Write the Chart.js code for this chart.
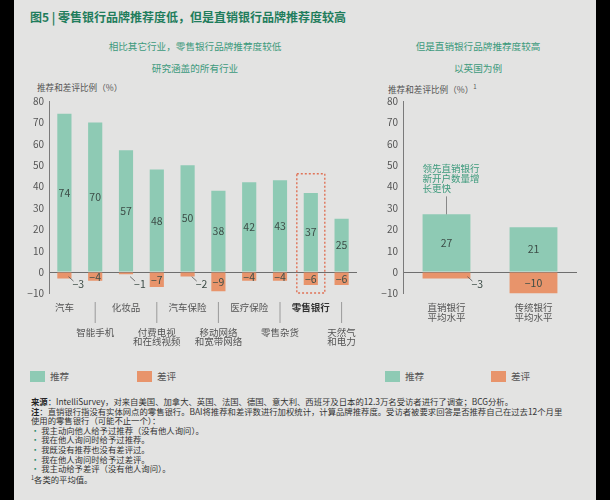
<!DOCTYPE html>
<html>
<head>
<meta charset="utf-8">
<script src="https://cdn.jsdelivr.net/npm/chart.js"></script>
<style>
  body { margin:0; width:610px; height:500px; background:#000; overflow:hidden;
         font-family:"Noto Sans CJK SC","Noto Sans",sans-serif; }
  #panel { position:absolute; left:14px; top:0; width:582px; height:500px; background:#e3e3e2; }
  .abs { position:absolute; white-space:nowrap; }
  #title { left:30px; top:10px; font-size:12px; line-height:14px; font-weight:bold; color:#1f7d5c; }
  .sub { font-size:9.6px; line-height:12px; color:#3d9a7c; text-align:center; }
  .axt { font-size:8.6px; line-height:10px; color:#555; }
  .leg { font-size:9.6px; line-height:11px; color:#555; }
  .box { position:absolute; width:15px; height:11px; }
  #foot { left:31px; top:397px; font-size:8.35px; line-height:9.6px; color:#333; }
  #foot b { color:#222; }
  #foot .dot { color:#2e8a6a; }
  canvas { position:absolute; }
</style>
</head>
<body>
<div id="panel"></div>
<div class="abs" id="title">图5 | 零售银行品牌推荐度低，但是直销银行品牌推荐度较高</div>

<div class="abs sub" style="left:95px;top:40px;width:200px;">相比其它行业，零售银行品牌推荐度较低</div>
<div class="abs sub" style="left:95px;top:62px;width:200px;">研究涵盖的所有行业</div>
<div class="abs sub" style="left:378px;top:40px;width:200px;">但是直销银行品牌推荐度较高</div>
<div class="abs sub" style="left:378px;top:62px;width:200px;">以英国为例</div>

<div class="abs axt" style="left:37px;top:82px;">推荐和差评比例（%）</div>
<div class="abs axt" style="left:388px;top:82px;">推荐和差评比例（%）<sup style="font-size:6px;vertical-align:4px;">1</sup></div>

<canvas id="left" width="345" height="270" style="left:20px;top:90px;"></canvas>
<canvas id="right" width="230" height="270" style="left:365px;top:90px;"></canvas>

<div class="box" style="left:30px;top:371px;background:#8ecab4;"></div>
<div class="abs leg" style="left:50px;top:371px;">推荐</div>
<div class="box" style="left:137px;top:371px;background:#e8946b;"></div>
<div class="abs leg" style="left:157px;top:371px;">差评</div>
<div class="box" style="left:385px;top:371px;background:#8ecab4;"></div>
<div class="abs leg" style="left:405px;top:371px;">推荐</div>
<div class="box" style="left:491px;top:371px;background:#e8946b;"></div>
<div class="abs leg" style="left:511px;top:371px;">差评</div>

<div class="abs" id="foot">
<b>来源</b>：IntelliSurvey，对来自美国、加拿大、英国、法国、德国、意大利、西班牙及日本的12.3万名受访者进行了调查；BCG分析。<br>
<b>注</b>：直销银行指没有实体网点的零售银行。BAI将推荐和差评数进行加权统计，计算品牌推荐度。受访者被要求回答是否推荐自己在过去12个月里<br>
使用的零售银行（可能不止一个）：<br>
<span class="dot">•</span> 我主动向他人给予过推荐（没有他人询问）。<br>
<span class="dot">•</span> 我在他人询问时给予过推荐。<br>
<span class="dot">•</span> 我既没有推荐也没有差评过。<br>
<span class="dot">•</span> 我在他人询问时给予过差评。<br>
<span class="dot">•</span> 我主动给予差评（没有他人询问）。<br>
<sup style="font-size:5.5px;vertical-align:3px;">1</sup>各类的平均值。
</div>

<script>
// industries, left panel
const industries = [['汽车'],['智能手机'],['化妆品'],['付费电视','和在线视频'],['汽车保险'],
  ['移动网络','和宽带网络'],['医疗保险'],['零售杂货'],['零售银行'],['天然气','和电力']];
const recommend = [74,70,57,48,50,38,42,43,37,25];
const detract = [-3,-4,-1,-7,-2,-9,-4,-4,-6,-6];

// banks (UK), right panel
const banks = [['直销银行','平均水平'],['传统银行','平均水平']];
const bankRecommend = [27,21];
const bankDetract = [-3,-10];

const yMin = -10, yMax = 80, yStep = 10;
const GREEN = '#8ecab4', ORANGE = '#e8946b';
const FONT = '"Noto Sans CJK SC","Noto Sans",sans-serif';

Chart.defaults.font.family = FONT;
Chart.defaults.color = '#555';

const minus = v => (v < 0 ? '\u2212' + Math.abs(v) : '' + v);

// numbers in / next to the bars
const valueLabels = {
  id: 'valueLabels',
  afterDatasetsDraw(chart) {
    const ctx = chart.ctx;
    ctx.save();
    ctx.font = '10.5px ' + FONT;
    ctx.fillStyle = '#3d4d47';
    ctx.textBaseline = 'middle';
    chart.data.datasets.forEach((ds, di) => {
      chart.getDatasetMeta(di).data.forEach((bar, i) => {
        const v = ds.data[i];
        if (v < 0 && v > -4) {
          const r = bar.x + bar.width / 2;
          ctx.strokeStyle = '#555';
          ctx.lineWidth = 0.8;
          ctx.beginPath();
          ctx.moveTo(r - 3, bar.base + 4);
          ctx.lineTo(r + 2, bar.base + 8.5);
          ctx.stroke();
          ctx.textAlign = 'left';
          ctx.fillText(minus(v), r + 1, bar.base + 11.5);
        } else {
          ctx.textAlign = 'center';
          ctx.fillText(minus(v), bar.x, (bar.y + bar.base) / 2);
        }
      });
    });
    ctx.restore();
  }
};

// category labels under the bars
const catLabels = {
  id: 'catLabels',
  afterDraw(chart, args, opts) {
    const { ctx, chartArea } = chart;
    const x = chart.scales.x;
    ctx.save();
    ctx.textAlign = 'center';
    ctx.textBaseline = 'middle';
    chart.data.labels.forEach((lab, i) => {
      const px = x.getPixelForValue(i);
      const lower = opts.stagger && i % 2 === 1;
      if (lower) {
        ctx.strokeStyle = '#9a9a9a';
        ctx.lineWidth = 1;
        ctx.beginPath();
        ctx.moveTo(px, chartArea.bottom + 8.5);
        ctx.lineTo(px, chartArea.bottom + 29.5);
        ctx.stroke();
      }
      const bold = i === opts.bold;
      ctx.font = (bold ? 'bold ' : '') + '9.5px ' + FONT;
      ctx.fillStyle = bold ? '#333' : '#555';
      const y0 = chartArea.bottom + (lower ? 38.5 : 13.5);
      lab.forEach((line, k) => ctx.fillText(line, px, y0 + k * opts.gap));
    });
    ctx.restore();
  }
};

// dotted box round the retail bank bar
const highlight = {
  id: 'highlight',
  afterDatasetsDraw(chart, args, opts) {
    if (opts.index == null) return;
    const bar = chart.getDatasetMeta(0).data[opts.index];
    const y = chart.scales.y;
    const ctx = chart.ctx;
    ctx.save();
    ctx.strokeStyle = '#e07357';
    ctx.lineWidth = 1.4;
    ctx.setLineDash([2, 2]);
    const top = y.getPixelForValue(46), bot = y.getPixelForValue(yMin) - 0.5;
    ctx.strokeRect(bar.x - 14, top, 28, bot - top);
    ctx.restore();
  }
};

// green note above the direct bank bar
const note = {
  id: 'note',
  afterDatasetsDraw(chart, args, opts) {
    if (!opts.lines) return;
    const bar = chart.getDatasetMeta(0).data[0];
    const ctx = chart.ctx;
    ctx.save();
    ctx.strokeStyle = '#888';
    ctx.lineWidth = 1;
    ctx.beginPath();
    ctx.moveTo(bar.x, bar.y - 18);
    ctx.lineTo(bar.x, bar.y);
    ctx.stroke();
    ctx.font = '9.5px ' + FONT;
    ctx.fillStyle = '#3d9a7c';
    ctx.textAlign = 'left';
    ctx.textBaseline = 'middle';
    opts.lines.forEach((t, k) => ctx.fillText(t, bar.x - bar.width / 2, bar.y - 46 + k * 10));
    ctx.restore();
  }
};

function makeChart(id, labels, pos, neg, yWidth, padRight, barPct, extra) {
  return new Chart(document.getElementById(id), {
    type: 'bar',
    data: {
      labels: labels,
      datasets: [
        { label: '推荐', data: pos, backgroundColor: GREEN },
        { label: '差评', data: neg, backgroundColor: ORANGE }
      ]
    },
    plugins: [valueLabels, catLabels, highlight, note],
    options: {
      responsive: false,
      animation: false,
      devicePixelRatio: 1,
      layout: { padding: { top: 10, right: padRight, left: 0, bottom: 0 } },
      datasets: { bar: { categoryPercentage: 1, barPercentage: barPct } },
      scales: {
        x: {
          stacked: true,
          grid: { display: false },
          border: { display: false },
          ticks: { display: false },
          afterFit: s => { s.height = 66.5; }
        },
        y: {
          stacked: true,
          min: yMin, max: yMax,
          ticks: { stepSize: yStep, padding: 5, font: { size: 10 }, color: '#555',
                   callback: v => minus(v) },
          grid: { drawTicks: false, color: c => (c.tick && c.tick.value === 0 ? '#6e6e6e' : 'rgba(0,0,0,0)') },
          border: { display: true, color: '#7a7a7a' },
          afterFit: s => { s.width = yWidth; }
        }
      },
      plugins: Object.assign({
        legend: { display: false },
        tooltip: { enabled: false }
      }, extra)
    }
  });
}

makeChart('left', industries, recommend, detract, 29, 8, 0.46,
  { catLabels: { stagger: true, gap: 9.5, bold: 8 }, highlight: { index: 8 }, note: {} });
makeChart('right', banks, bankRecommend, bankDetract, 38, 18, 0.55,
  { catLabels: { stagger: false, gap: 10, bold: -1 }, highlight: {}, note: { lines: ['领先直销银行','新开户数量增','长更快'] } });
</script>
</body>
</html>
